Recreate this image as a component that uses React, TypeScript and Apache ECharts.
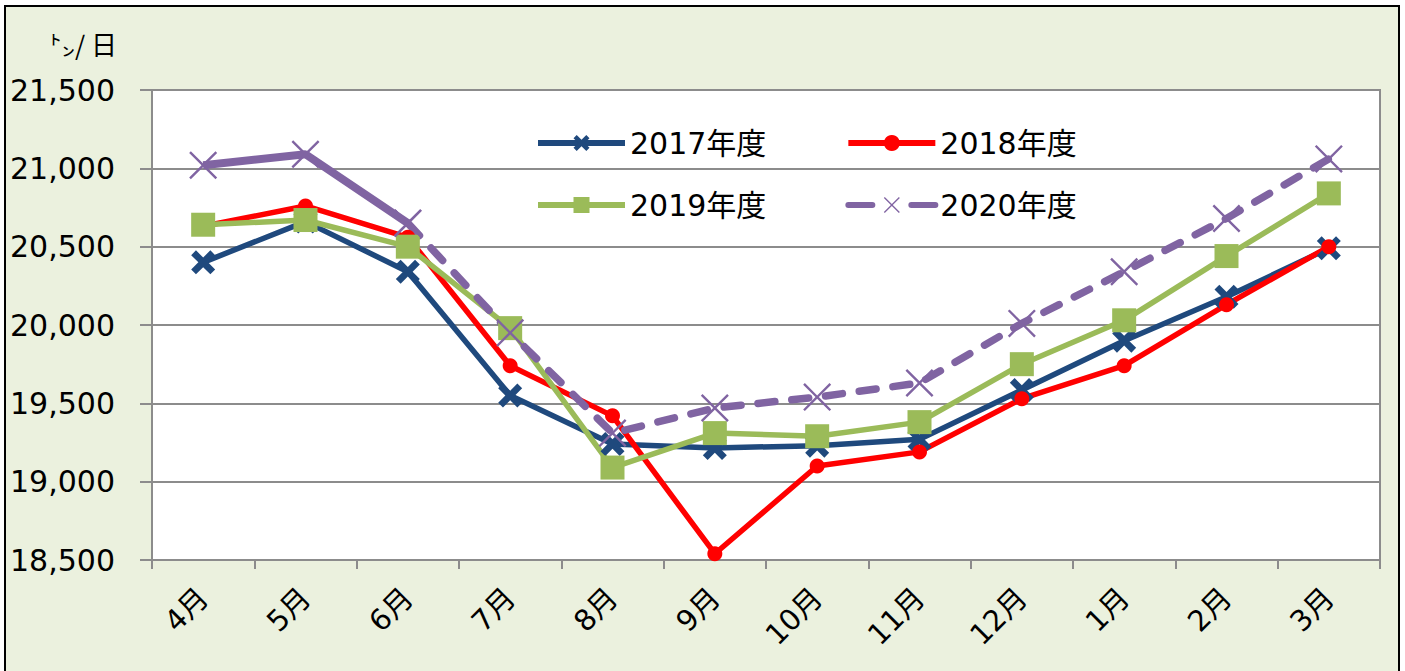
import React, { useEffect, useRef } from "react";
import * as echarts from "echarts";

const months = ["4月", "5月", "6月", "7月", "8月", "9月", "10月", "11月", "12月", "1月", "2月", "3月"];
const y2017 = [20400, 20660, 20340, 19550, 19240, 19215, 19230, 19270, 19585, 19900, 20180, 20490];
const y2018 = [20630, 20760, 20560, 19740, 19420, 18540, 19100, 19190, 19530, 19740, 20130, 20500];
const y2019 = [20640, 20670, 20500, 19980, 19090, 19310, 19290, 19380, 19750, 20030, 20440, 20840];
const y2020 = [21020, 21090, 20650, 19950, 19310, 19470, 19540, 19630, 20010, 20340, 20680, 21060];
const seriesNames = ["2017年度", "2018年度", "2019年度", "2020年度"];
const unitLabel = "㌧/ 日";

const FONT = "'DejaVu Sans', 'Noto Sans CJK JP', sans-serif";
const thickX = "path://M0,2L2,0L5,3L8,0L10,2L7,5L10,8L8,10L5,7L2,10L0,8L3,5Z";
const thinX = "path://M0,0.6L0.6,0L5,4.4L9.4,0L10,0.6L5.6,5L10,9.4L9.4,10L5,5.6L0.6,10L0,9.4L4.4,5Z";

export default function App() {
  const ref = useRef<HTMLDivElement>(null);
  useEffect(() => {
    document.body.style.margin = "0";
    const chart = echarts.init(ref.current!, null, { renderer: "svg" });
    const gray = "#8c8c8c";
    const solid2020 = y2020.map((v, i) => (i <= 2 ? v : null));
    const dashed2020 = y2020.map((v, i) => (i >= 2 ? v : null));
    const legendCommon = {
      left: 535,
      padding: 0,
      itemWidth: 87,
      itemHeight: 20,
      itemGap: 79,
      lineStyle: { width: 6 },
      textStyle: { fontSize: 30, color: "#000", fontFamily: FONT },
    };
    chart.setOption({
      animation: false,
      backgroundColor: "#ffffff",
      textStyle: { fontFamily: FONT },
      graphic: [
        {
          type: "rect",
          z: -10,
          shape: { x: 5, y: 6, width: 1394, height: 700 },
          style: { fill: "#ebf1de", stroke: "#000", lineWidth: 2 },
        },
        {
          type: "text",
          x: 49,
          y: 30,
          style: { text: unitLabel, font: `26px 'Noto Sans CJK JP', sans-serif`, fill: "#000" },
        },
      ],
      grid: {
        left: 152,
        top: 90,
        right: 25,
        bottom: 111,
        show: true,
        backgroundColor: "#ffffff",
        borderColor: gray,
        borderWidth: 2,
      },
      legend: [
        { ...legendCommon, data: [seriesNames[0], seriesNames[1]], top: 128 },
        {
          ...legendCommon,
          data: [
            seriesNames[2],
            { name: seriesNames[3], lineStyle: { width: 6, type: [24, 39], cap: "round" } },
          ],
          top: 190,
        },
      ],
      xAxis: {
        type: "category",
        data: months,
        boundaryGap: true,
        axisLine: { lineStyle: { color: gray, width: 2 } },
        axisTick: { show: true, length: 9, lineStyle: { color: gray, width: 2 } },
        axisLabel: { rotate: 45, fontSize: 29, color: "#000", margin: 33, interval: 0, fontFamily: FONT },
      },
      yAxis: {
        type: "value",
        min: 18500,
        max: 21500,
        interval: 500,
        axisLine: { show: true, lineStyle: { color: gray, width: 2 } },
        axisTick: { show: true, length: 12, lineStyle: { color: gray, width: 2 } },
        splitLine: { lineStyle: { color: gray, width: 2 } },
        axisLabel: {
          fontSize: 30,
          color: "#000",
          margin: 37,
          fontFamily: FONT,
          formatter: (v: number) => v.toLocaleString("en-US"),
        },
      },
      series: [
        {
          name: seriesNames[0],
          type: "line",
          data: y2017,
          symbol: thickX,
          symbolSize: 24,
          lineStyle: { color: "#1f497d", width: 5.5 },
          itemStyle: { color: "#1f497d" },
        },
        {
          name: seriesNames[1],
          type: "line",
          data: y2018,
          symbol: "circle",
          symbolSize: 15,
          lineStyle: { color: "#ff0000", width: 5.5 },
          itemStyle: { color: "#ff0000" },
        },
        {
          name: seriesNames[2],
          type: "line",
          data: y2019,
          symbol: "rect",
          symbolSize: 24,
          lineStyle: { color: "#9bbb59", width: 5.5 },
          itemStyle: { color: "#9bbb59" },
        },
        {
          name: "2020年度(前半)",
          type: "line",
          data: solid2020,
          symbol: thinX,
          symbolSize: 28,
          lineStyle: { color: "#8064a2", width: 8 },
          itemStyle: { color: "#8064a2" },
        },
        {
          name: seriesNames[3],
          type: "line",
          data: dashed2020,
          symbol: thinX,
          symbolSize: 28,
          lineStyle: { color: "#8064a2", width: 7.5, type: [17, 17], cap: "round" },
          itemStyle: { color: "#8064a2" },
        },
      ],
    });
    return () => chart.dispose();
  }, []);
  return <div ref={ref} style={{ width: 1405, height: 671 }} />;
}
